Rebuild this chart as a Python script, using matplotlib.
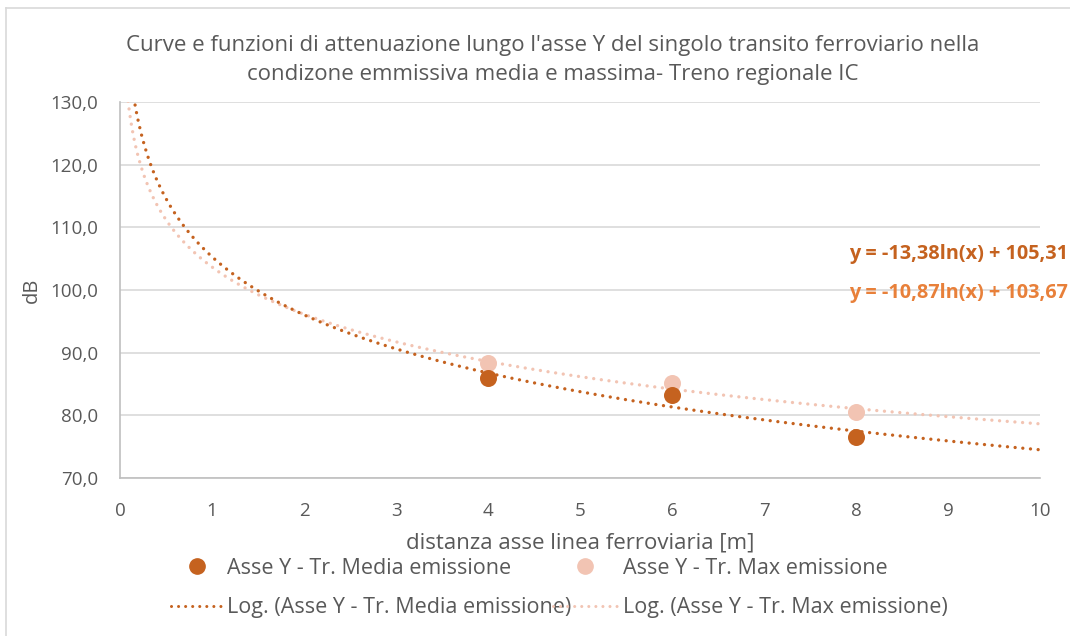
import numpy as np
import matplotlib
matplotlib.use("Agg")
import matplotlib.pyplot as plt
from matplotlib.lines import Line2D

plt.rcParams['font.family'] = ['Open Sans', 'DejaVu Sans']

# ---- data ----
distances = [4, 6, 8]
media_vals = [86.0, 83.2, 76.5]
max_vals = [88.3, 85.2, 80.5]
# logarithmic trend coefficients (y = a*ln(x) + b)
media_coef = (-13.38, 105.31)
max_coef = (-10.87, 103.67)
x_ticks = list(range(0, 11))
y_ticks = [70, 80, 90, 100, 110, 120, 130]

title = ("Curve e funzioni di attenuazione lungo l'asse Y del singolo transito ferroviario nella\n"
         "condizone emmissiva media e massima- Treno regionale IC")
label_media = "Asse Y - Tr. Media emissione"
label_max = "Asse Y - Tr. Max emissione"
eq_media = "y = -13,38ln(x) + 105,31"
eq_max = "y = -10,87ln(x) + 103,67"

c_media = '#C5621F'
c_max = '#F2C4B3'
c_eq2 = '#E8803A'
txt = '#595959'
grid_c = '#D9D9D9'

W, H = 1070, 636
fig = plt.figure(figsize=(W / 100, H / 100), dpi=100)
ax = fig.add_axes([120 / W, 1 - 478 / H, 920 / W, 376 / H])

xs = np.linspace(0.05, 10, 600)
dot = (0, (0.01, 2.3))
ax.plot(xs, max_coef[0] * np.log(xs) + max_coef[1], color=c_max, lw=2.4,
        linestyle=dot, dash_capstyle='round', zorder=2)
ax.plot(xs, media_coef[0] * np.log(xs) + media_coef[1], color=c_media, lw=2.4,
        linestyle=dot, dash_capstyle='round', zorder=3)
ax.scatter(distances, max_vals, s=150, color=c_max, zorder=4, linewidths=0)
ax.scatter(distances, media_vals, s=150, color=c_media, zorder=5, linewidths=0)

ax.set_xlim(0, 10)
ax.set_ylim(70, 130)
ax.set_xticks(x_ticks)
ax.set_yticks(y_ticks)
ax.set_yticklabels([f"{v:.1f}".replace('.', ',') for v in y_ticks])
ax.yaxis.grid(True, color=grid_c, lw=1.2)
ax.set_axisbelow(True)
for s in ['top', 'right']:
    ax.spines[s].set_visible(False)
for s in ['left', 'bottom']:
    ax.spines[s].set_color('#BFBFBF')
    ax.spines[s].set_linewidth(1.2)
ax.tick_params(length=0, labelsize=13.5, colors=txt)
ax.tick_params(axis='y', pad=16)
ax.tick_params(axis='x', pad=17)
ax.set_ylabel("dB", fontsize=14.5, color=txt, labelpad=6)
ax.set_xlabel("distanza asse linea ferroviaria [m]", fontsize=16, color=txt, labelpad=9)

fig.text(553 / W, 1 - 60 / H, title, ha='center', va='center', fontsize=16,
         color=txt, linespacing=1.45)

fig.text(1068 / W, 1 - 254 / H, eq_media, ha='right', va='center', fontsize=14.3,
         fontweight='bold', color=c_media)
fig.text(1068 / W, 1 - 293 / H, eq_max, ha='right', va='center', fontsize=14.3,
         fontweight='bold', color=c_eq2)

# legends
h1 = Line2D([], [], color=c_media, marker='o', markersize=11, linestyle='none')
h2 = Line2D([], [], color=c_media, lw=2.2, linestyle=dot, dash_capstyle='round')
h3 = Line2D([], [], color=c_max, marker='o', markersize=11, linestyle='none')
h4 = Line2D([], [], color=c_max, lw=2.2, linestyle=dot, dash_capstyle='round')
leg_kw = dict(frameon=False, fontsize=15.5, labelcolor=txt,
              labelspacing=0.85, borderpad=0, borderaxespad=0)
leg1 = fig.legend([h1, h2], [label_media, "Log. (" + label_media + ")"],
                  loc='upper left', bbox_to_anchor=(171 / W, 1 - 558 / H),
                  handlelength=2.4, handletextpad=0.2, **leg_kw)
leg2 = fig.legend([h3, h4], [label_max, "Log. (" + label_max + ")"],
                  loc='upper left', bbox_to_anchor=(553 / W, 1 - 558 / H),
                  handlelength=3.0, handletextpad=0.25, **leg_kw)

# chart frame
fig.add_artist(Line2D([6 / W, 6 / W], [0, 1 - 8 / H], color='#D9D9D9', lw=1.2,
                      transform=fig.transFigure))
fig.add_artist(Line2D([6 / W, 1], [1 - 8 / H, 1 - 8 / H], color='#D9D9D9', lw=1.2,
                      transform=fig.transFigure))

fig.savefig("out.png", dpi=100)
